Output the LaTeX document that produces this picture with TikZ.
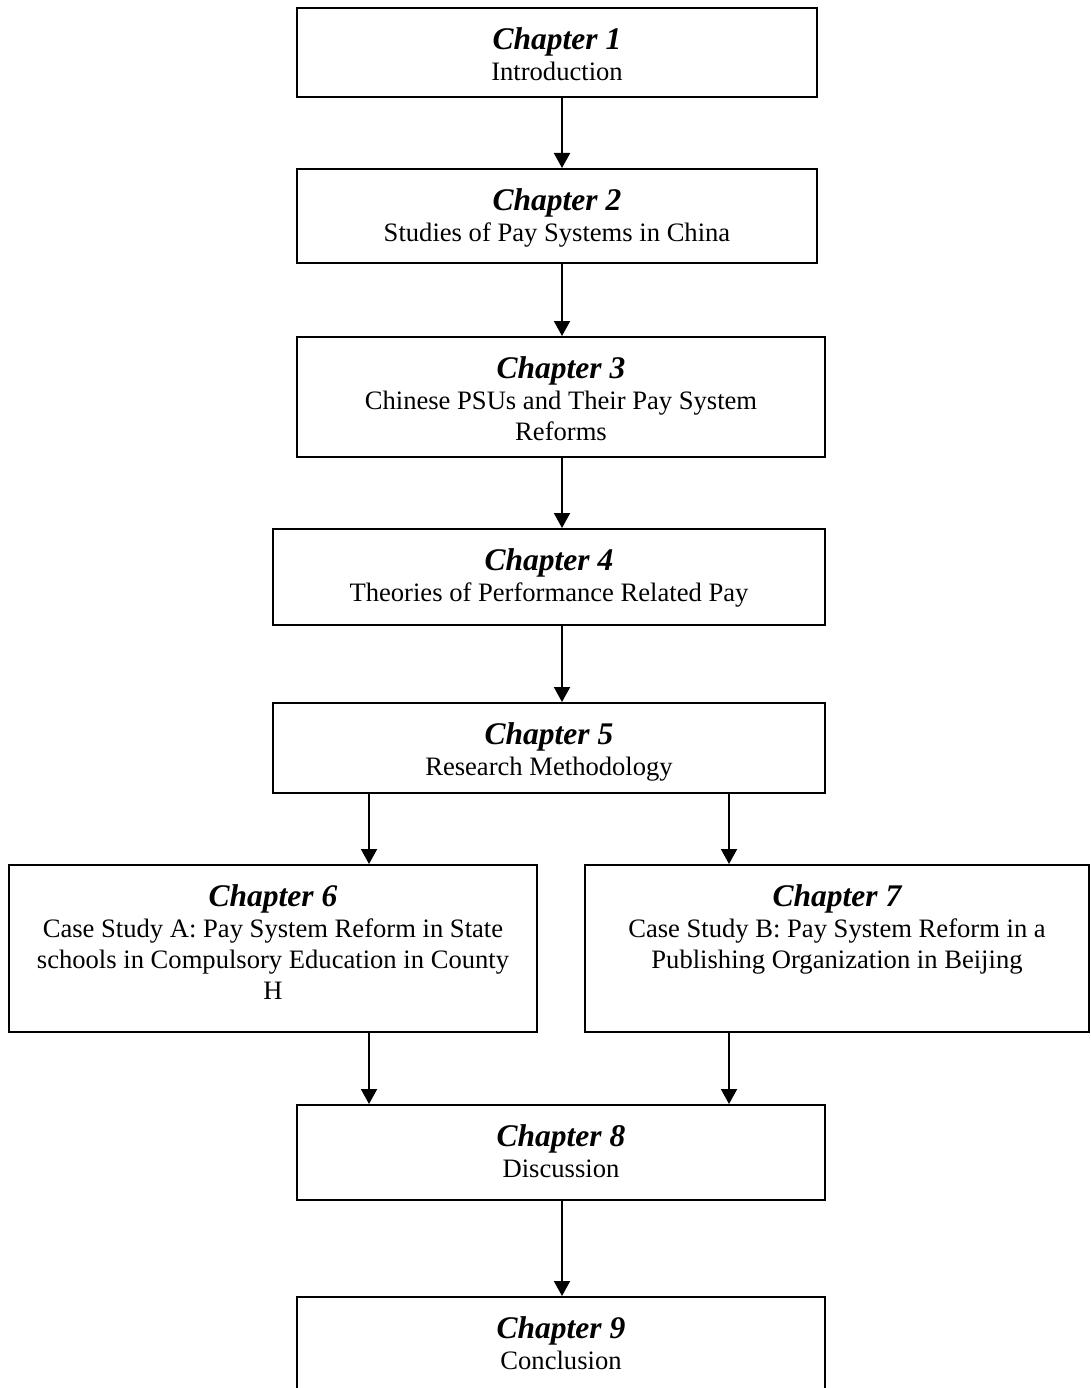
\documentclass[tikz,border=0pt]{standalone}
\usepackage{fontspec}
\setmainfont{Liberation Serif}
\usetikzlibrary{arrows.meta,calc}
\newcommand{\ttl}{\fontsize{31.5}{31}\selectfont\bfseries\itshape}
\begin{document}
\begin{tikzpicture}[x=1pt,y=-1pt,
  chapbox/.style={draw=black,line width=2pt,rectangle,inner sep=0pt},
  chaptext/.style={anchor=north,align=center,inner sep=0pt,font=\fontsize{26.6}{31}\selectfont},
  arr/.style={line width=2pt,-{Triangle[width=16pt,length=15pt]}}]
\useasboundingbox (0,0) rectangle (1090,1388);
\clip (0,0) rectangle (1090,1388);
\fill[white] (0,0) rectangle (1090,1388);
% boxes: x1 y1 x2 y2
\newcommand{\chap}[7]{%
  \node[chapbox,minimum width={#4-#2},minimum height={#5-#3}] (#1) at ({(#2+#4)/2},{(#3+#5)/2}) {};
  \node[chaptext] (#1t) at ({(#2+#4)/2},{#3+19.5}) {{\ttl #6}\\#7};}
\chap{b1}{297}{8}{817}{97}{Chapter 1}{Introduction}
\chap{b2}{297}{169}{817}{263}{Chapter 2}{Studies of Pay Systems in China}
\chap{b3}{297}{337}{825}{457}{Chapter 3}{Chinese PSUs and Their Pay System\\Reforms}
\chap{b4}{273}{529}{825}{625}{Chapter 4}{Theories of Performance Related Pay}
\chap{b5}{273}{703}{825}{793}{Chapter 5}{Research Methodology}
\chap{b6}{9}{865}{537}{1032}{Chapter 6}{Case Study A: Pay System Reform in State\\schools in Compulsory Education in County\\H}
\chap{b7}{585}{865}{1089}{1032}{Chapter 7}{Case Study B: Pay System Reform in a\\Publishing Organization in Beijing}
\chap{b8}{297}{1105}{825}{1200}{Chapter 8}{Discussion}
\chap{b9}{297}{1297}{825}{1400}{Chapter 9}{Conclusion}
\coordinate (xm) at (562,0);
\coordinate (xl) at (369,0);
\coordinate (xr) at (729,0);
\draw[arr] (b1.south -| xm) -- (b2.north -| xm);
\draw[arr] (b2.south -| xm) -- (b3.north -| xm);
\draw[arr] (b3.south -| xm) -- (b4.north -| xm);
\draw[arr] (b4.south -| xm) -- (b5.north -| xm);
\draw[arr] (b5.south -| xl) -- (b6.north -| xl);
\draw[arr] (b5.south -| xr) -- (b7.north -| xr);
\draw[arr] (b6.south -| xl) -- (b8.north -| xl);
\draw[arr] (b7.south -| xr) -- (b8.north -| xr);
\draw[arr] (b8.south -| xm) -- (b9.north -| xm);
\end{tikzpicture}
\end{document}
